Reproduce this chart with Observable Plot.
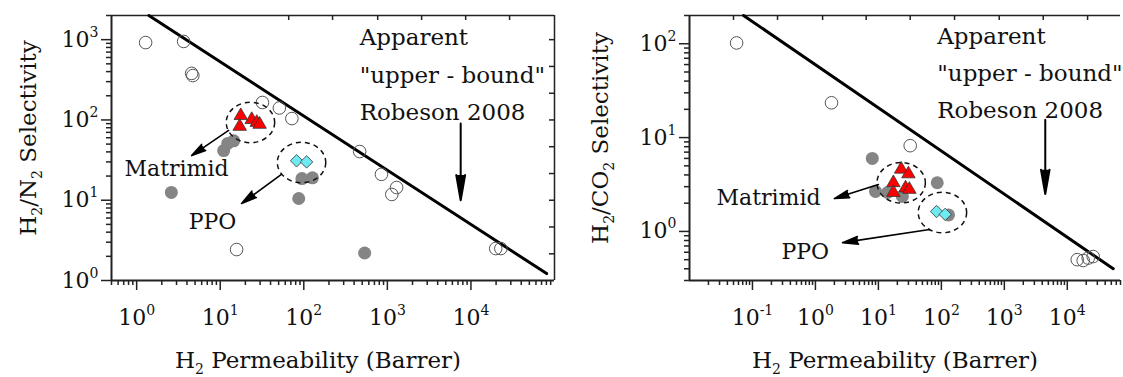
<!DOCTYPE html>
<html><head><meta charset="utf-8">
<script src="https://cdn.jsdelivr.net/npm/d3@7"></script>
<script src="https://cdn.jsdelivr.net/npm/@observablehq/plot@0.6"></script>
<style>
body{margin:0;background:#fff;}
#row{display:flex;width:1123px;height:377px;overflow:hidden;}
</style></head><body><div id="row"></div>
<script>
// ---------- H2/N2 panel data ----------
const n2OpenP = [1.28, 3.65, 4.55, 4.7, 32, 51, 72, 466, 850, 1290, 1130, 19800, 22800, 15.7];
const n2OpenS = [920, 950, 380, 357, 165, 141, 104, 40.4, 21, 14.4, 11.8, 2.5, 2.5, 2.43];
const n2GrayP = [2.6, 87, 535, 11, 12.3, 14.5, 95, 127];
const n2GrayS = [12.5, 10.5, 2.2, 41.5, 51, 55, 18.6, 19];
const n2MatP = [17.6, 17.1, 23.8, 27.4, 29.6];
const n2MatS = [113, 83, 101, 93, 88];
const n2PpoP = [82, 108];
const n2PpoS = [31, 30];
const n2BoundP = [1.4, 80500];
const n2BoundS = [2000, 1.22];
const n2GroupP = [23, 94];
const n2GroupS = [93, 29.5];
const n2ArrowP1 = [12.6, 54], n2ArrowS1 = [74, 21], n2ArrowP2 = [4.55, 18], n2ArrowS2 = [36, 9.1];
const n2LabelText = ["Matrimid", "PPO"], n2LabelP = [3.0, 8.1], n2LabelS = [24.8, 5.3];
const n2NoteP = 466, n2NoteS = 410;
const n2BoundArrowP = 7540, n2BoundArrowS = [90, 10];
const n2XDomain = [0.5, 1e5], n2YDomain = [1, 2000];
const n2XMajor = [1, 10, 100, 1000, 10000];
const n2YMajor = [1, 10, 100, 1000];
const n2TopTicks = [66, 221, 766, 2570, 8650, 29000];
const n2RightTicks = [2.15, 4.64, 10, 21.5, 46.4, 100, 215, 464, 1000];

// ---------- H2/CO2 panel data ----------
const co2OpenP = [0.056, 1.8, 32, 14400, 17900, 21500, 25800];
const co2OpenS = [102, 23.5, 8.2, 0.50, 0.49, 0.52, 0.54];
const co2GrayP = [8.0, 86, 9, 14, 24, 130];
const co2GrayS = [6.0, 3.3, 2.67, 2.6, 2.36, 1.5];
const co2MatP = [23, 30, 17.3, 27, 31, 17.3];
const co2MatS = [4.6, 4.1, 3.3, 2.9, 2.8, 2.6];
const co2PpoP = [84, 115];
const co2PpoS = [1.63, 1.52];
const co2BoundP = [0.072, 53700];
const co2BoundS = [200, 0.40];
const co2GroupP = [23, 104];
const co2GroupS = [3.3, 1.59];
const co2ArrowP1 = [10, 65], co2ArrowS1 = [3.16, 1.05], co2ArrowP2 = [2.0, 2.7], co2ArrowS2 = [2.24, 0.76];
const co2LabelText = ["Matrimid", "PPO"], co2LabelP = [0.18, 0.69], co2LabelS = [2.3, 0.6];
const co2NoteP = 86, co2NoteS = 54;
const co2BoundArrowP = 4470, co2BoundArrowS = [15.5, 2.5];
const co2XDomain = [0.01, 7e4], co2YDomain = [0.3, 200];
const co2XMajor = [0.1, 1, 10, 100, 1000, 10000];
const co2YMajor = [1, 10, 100];
const co2TopTicks = [0.05, 0.25, 1.3, 6.4, 32, 162, 830, 4150, 21000];
const co2RightTicks = [];

const noteText = "Apparent\n\"upper - bound\"\nRobeson 2008";
const xLabel = "H_2 Permeability (Barrer)";
const n2YLabel = "H_2/N_2 Selectivity";
const co2YLabel = "H_2/CO_2 Selectivity";

const fmt = d => "10^" + Math.round(Math.log10(d));
function minorTicks(dom) {
  const out = [];
  for (let e = -3; e <= 5; e++) for (let m = 2; m <= 9; m++) {
    const v = m * Math.pow(10, e);
    if (v >= dom[0] * 0.999 && v <= dom[1] * 1.001) out.push(v);
  }
  return out;
}
const ellipse = {draw(ctx, size) {
  const r = Math.sqrt(size / Math.PI), rx = r * 1.1, ry = r * 0.92, k = 0.5523;
  ctx.moveTo(rx, 0);
  ctx.bezierCurveTo(rx, ry * k, rx * k, ry, 0, ry);
  ctx.bezierCurveTo(-rx * k, ry, -rx, ry * k, -rx, 0);
  ctx.bezierCurveTo(-rx, -ry * k, -rx * k, -ry, 0, -ry);
  ctx.bezierCurveTo(rx * k, -ry, rx, -ry * k, rx, 0);
  ctx.closePath();
}};
const zip = (a, b) => a.map((v, i) => [v, b[i]]);

function panel(o) {
  const [x0, x1] = o.xDomain, [y0, y1] = o.yDomain;
  const axisStroke = "#222";
  const marks = [
    Plot.axisX({ticks: minorTicks(o.xDomain), tickSize: 5, tickFormat: () => "", label: null, strokeWidth: 1.5, stroke: axisStroke}),
    Plot.axisX({ticks: o.xMajor, tickSize: 10, tickPadding: 19, tickFormat: fmt, label: null, strokeWidth: 1.5, stroke: axisStroke}),
    Plot.axisY({ticks: minorTicks(o.yDomain), tickSize: 5, tickFormat: () => "", label: null, strokeWidth: 1.5, stroke: axisStroke}),
    Plot.axisY({ticks: o.yMajor, tickSize: 10, tickPadding: 3, tickFormat: fmt, label: null, strokeWidth: 1.5, stroke: axisStroke}),
    Plot.ruleY([y0], {stroke: axisStroke, strokeWidth: 2}),
    Plot.ruleY([y1], {stroke: axisStroke, strokeWidth: 1.5}),
    Plot.ruleX([x0], {stroke: axisStroke, strokeWidth: 2}),
    Plot.ruleX(o.topTicks, {x: d => d, y1: y1, y2: y1, insetBottom: -5, stroke: axisStroke, strokeWidth: 1.5}),
  ];
  if (o.rightFrame) {
    marks.push(Plot.ruleX([x1], {stroke: axisStroke, strokeWidth: 1.5}));
    marks.push(Plot.ruleY(o.rightTicks, {y: d => d, x1: x1, x2: x1, insetLeft: -5, stroke: axisStroke, strokeWidth: 1.5}));
  }
  marks.push(
    Plot.line(zip(o.boundP, o.boundS), {x: d => d[0], y: d => d[1], stroke: "#000", strokeWidth: 3}),
    Plot.dot(zip(o.grayP, o.grayS), {x: d => d[0], y: d => d[1], r: 6.5, fill: "#858585", stroke: "none"}),
    Plot.dot(zip(o.openP, o.openS), {x: d => d[0], y: d => d[1], r: 6.3, fill: "none", stroke: "#555", strokeWidth: 1}),
    Plot.dot(zip(o.matP, o.matS), {x: d => d[0], y: d => d[1], r: 5, symbol: "triangle", fill: "#ff0000", stroke: "#333", strokeWidth: 0.8}),
    Plot.dot(zip(o.ppoP, o.ppoS), {x: d => d[0], y: d => d[1], r: 5.6, symbol: "diamond2", fill: "#6fe9f2", stroke: "#333", strokeWidth: 0.8}),
    Plot.dot(zip(o.groupP, o.groupS), {x: d => d[0], y: d => d[1], r: 22, symbol: ellipse, fill: "none", stroke: "#111", strokeWidth: 1.5, strokeDasharray: "5,4"}),
    Plot.arrow(o.arrowP1.map((v, i) => i), {x1: i => o.arrowP1[i], y1: i => o.arrowS1[i], x2: i => o.arrowP2[i], y2: i => o.arrowS2[i], stroke: "#000", fill: "#000", strokeWidth: 1.6, headLength: 15, headAngle: 28}),
    Plot.arrow([0], {x1: () => o.boundArrowP, y1: () => o.boundArrowS[0], x2: () => o.boundArrowP, y2: () => o.boundArrowS[1], stroke: "#000", fill: "#000", strokeWidth: 2, headLength: 26, headAngle: 20}),
    Plot.text(o.labelText, {x: (d, i) => o.labelP[i], y: (d, i) => o.labelS[i], text: d => d, fontSize: 22, fill: "#111"}),
    Plot.text([noteText], {x: () => o.noteP, y: () => o.noteS, text: d => d, textAnchor: "start", lineAnchor: "middle", lineHeight: 1.62, fontSize: 23, fill: "#111"}),
    Plot.text([xLabel], {frameAnchor: "bottom", textAnchor: "middle", lineAnchor: "middle", dy: 80, dx: o.xLabelDx, text: d => d, fontSize: 23, fill: "#111"}),
    Plot.text([o.yLabel], {frameAnchor: "left", textAnchor: "middle", lineAnchor: "middle", rotate: -90, dx: o.yLabelDx, dy: -10, text: d => d, fontSize: 23, fill: "#111"})
  );
  const svg = Plot.plot({
    width: o.width, height: 377,
    marginLeft: o.marginLeft, marginRight: o.marginRight, marginTop: 15, marginBottom: 97,
    x: {type: "log", domain: o.xDomain},
    y: {type: "log", domain: o.yDomain},
    style: {fontFamily: "DejaVu Serif", fontSize: "22px", color: "#111", background: "white", overflow: "visible"},
    marks
  });
  richText(svg);
  return svg;
}

// turn "10^n" into superscripts and "_n" into subscripts via tspans
function richText(svg) {
  const ns = "http://www.w3.org/2000/svg";
  svg.querySelectorAll("text").forEach(t => {
    if (t.querySelector("tspan")) return;
    const s = t.textContent;
    const m = s.match(/^10\^(-?\d+)$/);
    if (m) {
      t.textContent = "10";
      const ts = document.createElementNS(ns, "tspan");
      ts.setAttribute("dy", "-10");
      ts.setAttribute("font-size", "14");
      ts.textContent = m[1];
      t.append(ts);
      return;
    }
    if (s.includes("_")) {
      t.textContent = "";
      const parts = s.split(/_(\d)/);
      parts.forEach((p, i) => {
        if (!p) return;
        const ts = document.createElementNS(ns, "tspan");
        if (i % 2 === 1) { ts.setAttribute("dy", "6"); ts.setAttribute("font-size", "14"); }
        else if (i > 0) { ts.setAttribute("dy", "-6"); }
        ts.textContent = p;
        t.append(ts);
      });
    }
  });
}

const left = panel({
  width: 560, marginLeft: 111, marginRight: 6,
  xDomain: n2XDomain, yDomain: n2YDomain, xMajor: n2XMajor, yMajor: n2YMajor,
  topTicks: n2TopTicks, rightTicks: n2RightTicks, rightFrame: true,
  openP: n2OpenP, openS: n2OpenS, grayP: n2GrayP, grayS: n2GrayS,
  matP: n2MatP, matS: n2MatS, ppoP: n2PpoP, ppoS: n2PpoS,
  boundP: n2BoundP, boundS: n2BoundS, groupP: n2GroupP, groupS: n2GroupS,
  arrowP1: n2ArrowP1, arrowS1: n2ArrowS1, arrowP2: n2ArrowP2, arrowS2: n2ArrowS2,
  labelText: n2LabelText, labelP: n2LabelP, labelS: n2LabelS,
  noteP: n2NoteP, noteS: n2NoteS, boundArrowP: n2BoundArrowP, boundArrowS: n2BoundArrowS,
  xLabelDx: -15, yLabelDx: -83, yLabel: n2YLabel
});
const right = panel({
  width: 563, marginLeft: 129, marginRight: 3,
  xDomain: co2XDomain, yDomain: co2YDomain, xMajor: co2XMajor, yMajor: co2YMajor,
  topTicks: co2TopTicks, rightTicks: co2RightTicks, rightFrame: false,
  openP: co2OpenP, openS: co2OpenS, grayP: co2GrayP, grayS: co2GrayS,
  matP: co2MatP, matS: co2MatS, ppoP: co2PpoP, ppoS: co2PpoS,
  boundP: co2BoundP, boundS: co2BoundS, groupP: co2GroupP, groupS: co2GroupS,
  arrowP1: co2ArrowP1, arrowS1: co2ArrowS1, arrowP2: co2ArrowP2, arrowS2: co2ArrowS2,
  labelText: co2LabelText, labelP: co2LabelP, labelS: co2LabelS,
  noteP: co2NoteP, noteS: co2NoteS, boundArrowP: co2BoundArrowP, boundArrowS: co2BoundArrowS,
  xLabelDx: -10, yLabelDx: -89, yLabel: co2YLabel
});
document.getElementById("row").append(left, right);
</script></body></html>
